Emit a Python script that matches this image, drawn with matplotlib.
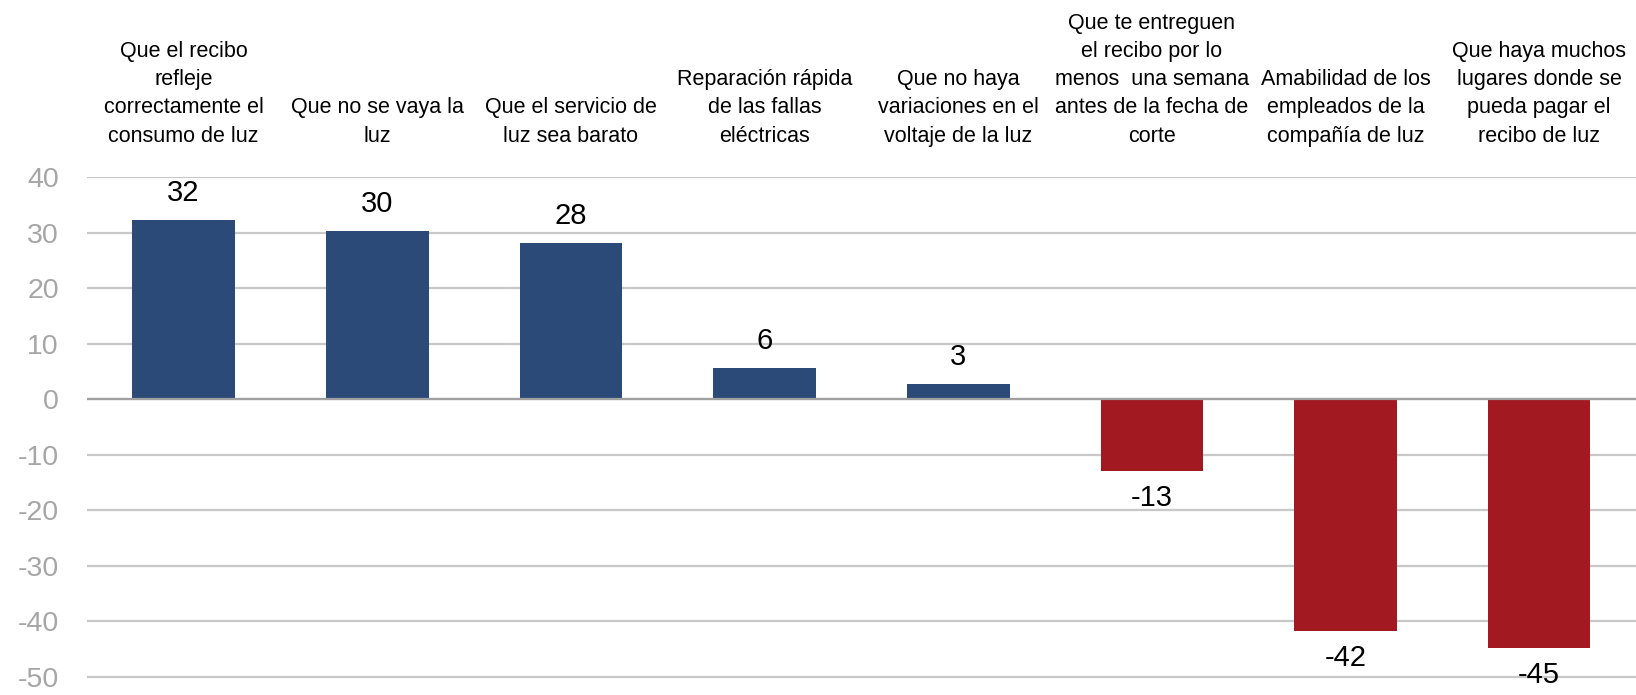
import matplotlib
matplotlib.use('Agg')
import matplotlib.pyplot as plt
from matplotlib import font_manager

# data
categories = [
    'Que el recibo\nrefleje\ncorrectamente el\nconsumo de luz',
    'Que no se vaya la\nluz',
    'Que el servicio de\nluz sea barato',
    'Reparación rápida\nde las fallas\neléctricas',
    'Que no haya\nvariaciones en el\nvoltaje de la luz',
    'Que te entreguen\nel recibo por lo\nmenos  una semana\nantes de la fecha de\ncorte',
    'Amabilidad de los\nempleados de la\ncompañía de luz',
    'Que haya muchos\nlugares donde se\npueda pagar el\nrecibo de luz',
]
values = [32.3, 30.3, 28.2, 5.6, 2.8, -12.9, -41.7, -44.9]
yticks = [40, 30, 20, 10, 0, -10, -20, -30, -40, -50]

installed = {f.name for f in font_manager.fontManager.ttflist}
family = 'Liberation Sans Narrow' if 'Liberation Sans Narrow' in installed else 'Liberation Sans'
plt.rcParams['font.family'] = [family, 'DejaVu Sans']
plt.rcParams['axes.unicode_minus'] = False

blue = '#2C4A78'
red = '#A31921'

fig = plt.figure(figsize=(16.36, 6.95), dpi=100)
ax = fig.add_axes([0.053, 0.0, 0.947, 0.745])

x = range(len(values))
colors = [blue if v >= 0 else red for v in values]
ax.bar(x, values, width=0.53, color=colors, zorder=3)

for i, v in enumerate(values):
    if v >= 0:
        ax.annotate('%.0f' % v, (i, v), xytext=(0, 13), textcoords='offset pixels',
                    ha='center', va='bottom', fontsize=21, color='black')
    else:
        ax.annotate('%.0f' % v, (i, v), xytext=(0, -13), textcoords='offset pixels',
                    ha='center', va='top', fontsize=21, color='black')

ax.set_xlim(-0.5, len(values) - 0.5)
ax.set_ylim(-53.3, 40)
ax.set_yticks(yticks)
ax.yaxis.grid(True, color='#C8C8C8', linewidth=1.6, zorder=0)
ax.axhline(0, color='#A0A0A0', linewidth=1.6, zorder=4)
ax.tick_params(axis='y', length=0, pad=20, labelsize=20.5, labelcolor='#A6A6A6')

ax.xaxis.tick_top()
ax.set_xticks(list(x))
ax.set_xticklabels(categories, fontsize=15.5, linespacing=1.45, ha='center',
                   multialignment='center')
ax.tick_params(axis='x', length=0, pad=22)

for s in ax.spines.values():
    s.set_visible(False)

fig.savefig('out.png', dpi=100)
